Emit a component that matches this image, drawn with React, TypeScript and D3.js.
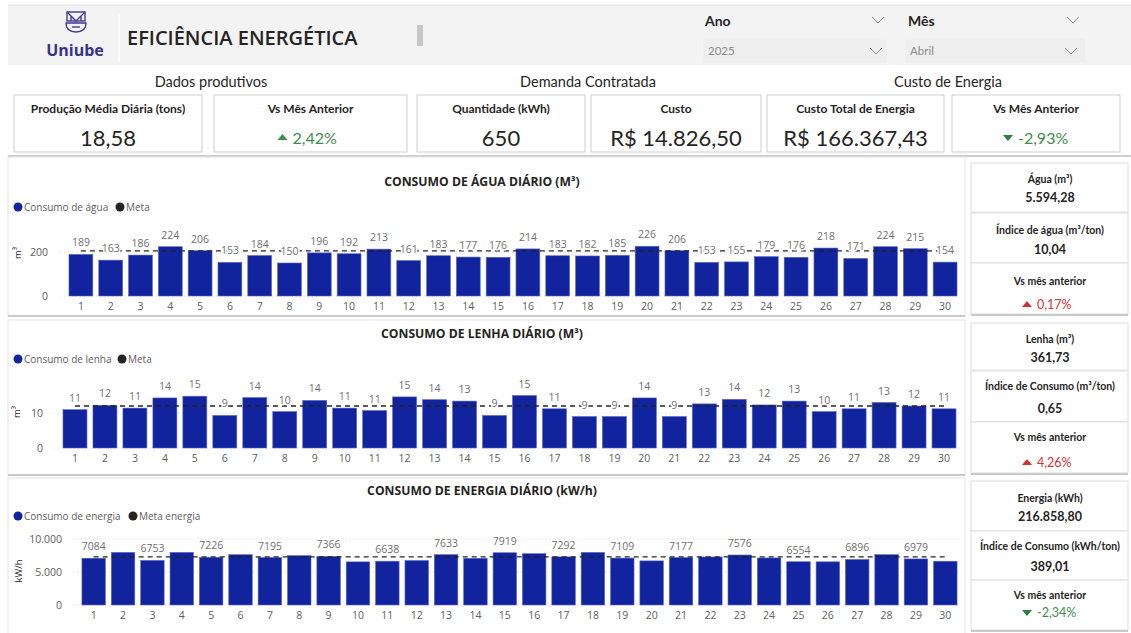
import React from "react";
import * as d3 from "d3";

const DAYS = ["1","2","3","4","5","6","7","8","9","10","11","12","13","14","15","16","17","18","19","20","21","22","23","24","25","26","27","28","29","30"];

const AGUA = [189,163,186,224,206,153,184,150,196,192,213,161,183,177,176,214,183,182,185,226,206,153,155,179,176,218,171,224,215,154];
const AGUA_META = 205;

const LENHA = [10.95,12.2,11.4,14.3,14.8,9.3,14.4,10.4,13.6,11.4,10.7,14.6,13.8,13.4,9.3,15.0,11.2,9.0,9.0,14.3,9.0,12.6,13.9,12.3,13.4,10.4,11.2,13.0,12.0,11.2];
const LENHA_META = 12;

const ENERGIA = [7084,7970,6753,7970,7226,7624,7195,7475,7366,6535,6638,6733,7633,7079,7919,7772,7292,7970,7109,6683,7177,7277,7576,7129,6554,6540,6896,7624,6979,6634];
const ENERGIA_META = 7300;

const KPI_GROUPS = ["Dados produtivos", "Demanda Contratada", "Custo de Energia"];
const KPI_LABELS = ["Produção Média Diária (tons)", "Vs Mês Anterior", "Quantidade (kWh)", "Custo", "Custo Total de Energia", "Vs Mês Anterior"];
const KPI_VALUES = ["18,58", "2,42%", "650", "R$ 14.826,50", "R$ 166.367,43", "-2,93%"];

const BLUE = "#12239E";
const GREY_TXT = "#605E5C";
const DARK = "#252423";
const GREEN = "#3E8E4E";
const RED = "#D13438";
const CAL = "Lato, 'Open Sans', sans-serif";
const SEG = "'Open Sans', 'Noto Sans', sans-serif";

const Chevron = ({ x, y }) => (
  <polyline points={`${x - 6},${y - 3} ${x},${y + 3} ${x + 6},${y - 3}`} fill="none" stroke="#8a8a8a" strokeWidth={1} />
);

const Trend = ({ x, y, up, color, text, size }) => (
  <g>
    <path d={up ? `M${x - 5},${y + 2} L${x},${y - 4} L${x + 5},${y + 2} Z` : `M${x - 5},${y - 3} L${x},${y + 3} L${x + 5},${y - 3} Z`} fill={up ? color : "#2E7D3A"} />
    <text x={x + 10} y={y} dy="0.35em" fontFamily={CAL} fontSize={size} fill={color}>{text}</text>
  </g>
);

// a bar chart panel with a dashed goal line
const BarPanel = ({ cfg }) => {
  const x = d3.scaleBand().domain(DAYS).range(cfg.xRange).paddingInner(0.2).paddingOuter(0.1);
  const y = d3.scaleLinear().domain([0, cfg.refVal]).range([cfg.base, cfg.refY]);
  const fmt = cfg.fmt;
  const metaLine = d3.line<string>().x((d) => x(d) + x.bandwidth() / 2).y(() => y(cfg.meta));
  const [gx0, gx1] = cfg.xRange;
  return (
    <g>
      <rect x={8} y={cfg.top} width={957} height={cfg.h} fill="#fff" stroke="#e3e3e3" />
      <line x1={8} x2={965} y1={cfg.top + cfg.h} y2={cfg.top + cfg.h} stroke="#c9c9c9" strokeWidth={2} />
      <text x={482} y={cfg.titleY} dy="0.35em" textAnchor="middle" fontFamily={SEG} fontWeight={700} fontSize={12.2} fill={DARK}>{cfg.title}</text>
      {cfg.legend.map((l, i) => (
        <g key={i}>
          <circle cx={l.x} cy={cfg.legendY} r={4.5} fill={i === 0 ? BLUE : DARK} />
          <text x={l.x + 6} y={cfg.legendY} dy="0.35em" fontFamily={SEG} fontSize={10} fill={GREY_TXT}>{l.label}</text>
        </g>
      ))}
      {cfg.ticks.map((t) => (
        <g key={t}>
          <line x1={gx0 - 6} x2={gx1} y1={y(t)} y2={y(t)} stroke="#dcdcdc" strokeDasharray="1,3" />
          <text x={cfg.tickX} y={y(t)} dy="0.35em" textAnchor="end" fontFamily={SEG} fontSize={10.5} fill={GREY_TXT}>{d3.format(",")(t).replace(/,/g, ".")}</text>
        </g>
      ))}
      <text transform={`translate(${cfg.unitX},${cfg.unitY}) rotate(-90)`} textAnchor="middle" fontFamily={SEG} fontSize={9.5} fill={DARK}>{cfg.unit}</text>
      {cfg.values.map((v, i) => (
        <rect key={i} x={x(DAYS[i])} y={y(v)} width={x.bandwidth()} height={cfg.base - y(v)} fill={BLUE} stroke="#5a66c4" strokeWidth={0.6} />
      ))}
      <path d={metaLine(DAYS) || ""} fill="none" stroke={DARK} strokeWidth={1.3} strokeDasharray="5,4" />
      {cfg.values.map((v, i) =>
        i % cfg.labelEvery === 0 ? (
          <text key={i} x={x(DAYS[i]) + x.bandwidth() / 2} y={y(v) - 8} textAnchor="middle" fontFamily={SEG} fontSize={10.5} fill="#6f6f6f" stroke="#fff" strokeWidth={3} paintOrder="stroke" strokeLinejoin="round">{fmt(v)}</text>
        ) : null
      )}
      {DAYS.map((d) => (
        <text key={d} x={x(d) + x.bandwidth() / 2} y={cfg.xLabY} dy="0.35em" textAnchor="middle" fontFamily={SEG} fontSize={10.5} fill={GREY_TXT}>{d}</text>
      ))}
    </g>
  );
};

const SideCards = ({ cards }) => (
  <g>
    {cards.map((c, i) => (
      <g key={i}>
        <rect x={971} y={c.y0} width={157} height={c.y1 - c.y0} fill="#fff" stroke="#dedede" />
        <text x={1050} y={c.ly} dy="0.35em" textAnchor="middle" fontFamily={CAL} fontWeight={700} fontSize={10.5} fill={DARK}>{c.label}</text>
        {c.trend ? (
          <Trend x={1027} y={c.vy} up={c.trend === "up"} color={c.color} text={c.value} size={12.5} />
        ) : (
          <text x={1050} y={c.vy} dy="0.35em" textAnchor="middle" fontFamily={CAL} fontWeight={700} fontSize={12.5} fill={DARK}>{c.value}</text>
        )}
      </g>
    ))}
    <line x1={971} x2={1128} y1={cards[2].y1 + 1} y2={cards[2].y1 + 1} stroke="#c9c9c9" strokeWidth={2} />
  </g>
);

const intFmt = d3.format(".0f");

const PANELS = [
  {
    top: 157, h: 159, title: "CONSUMO DE ÁGUA DIÁRIO (M³)", titleY: 182, legendY: 207,
    legend: [{ x: 18, label: "Consumo de água" }, { x: 120, label: "Meta" }],
    values: AGUA, meta: AGUA_META, refVal: 200, base: 296, refY: 252, ticks: [0, 200],
    tickX: 48, xRange: [66, 960], xLabY: 306, unit: "m³", unitX: 21, unitY: 253, labelEvery: 1, fmt: intFmt,
  },
  {
    top: 320, h: 155, title: "CONSUMO DE LENHA DIÁRIO (M³)", titleY: 334, legendY: 359,
    legend: [{ x: 18, label: "Consumo de lenha" }, { x: 122, label: "Meta" }],
    values: LENHA, meta: LENHA_META, refVal: 10, base: 448, refY: 413, ticks: [0, 10],
    tickX: 43, xRange: [60, 959], xLabY: 458, unit: "m³", unitX: 20, unitY: 412, labelEvery: 1, fmt: intFmt,
  },
  {
    top: 478, h: 160, title: "CONSUMO DE ENERGIA DIÁRIO (kW/h)", titleY: 491, legendY: 516,
    legend: [{ x: 18, label: "Consumo de energia" }, { x: 133, label: "Meta energia" }],
    values: ENERGIA, meta: ENERGIA_META, refVal: 10000, base: 605, refY: 539, ticks: [0, 5000, 10000],
    tickX: 62, xRange: [79, 960], xLabY: 615, unit: "kW/h", unitX: 22, unitY: 571, labelEvery: 2, fmt: intFmt,
  },
];

const CARDS = [
  [
    { y0: 163, y1: 212, label: "Água (m³)", ly: 179, value: "5.594,28", vy: 198 },
    { y0: 213, y1: 263, label: "Índice de água (m³/ton)", ly: 230, value: "10,04", vy: 250 },
    { y0: 263, y1: 314, label: "Vs mês anterior", ly: 281, value: "0,17%", vy: 305, trend: "up", color: RED },
  ],
  [
    { y0: 323, y1: 370, label: "Lenha (m³)", ly: 339, value: "361,73", vy: 358 },
    { y0: 371, y1: 422, label: "Índice de Consumo (m³/ton)", ly: 386, value: "0,65", vy: 409 },
    { y0: 422, y1: 473, label: "Vs mês anterior", ly: 437, value: "4,26%", vy: 463, trend: "up", color: RED },
  ],
  [
    { y0: 481, y1: 531, label: "Energia (kWh)", ly: 498, value: "216.858,80", vy: 517 },
    { y0: 531, y1: 580, label: "Índice de Consumo (kWh/ton)", ly: 546, value: "389,01", vy: 567 },
    { y0: 580, y1: 630, label: "Vs mês anterior", ly: 595, value: "-2,34%", vy: 613, trend: "down", color: GREEN },
  ],
];

const KPI_BOXES = [
  [14, 202], [214, 407], [417, 585], [591, 761], [767, 944], [952, 1120],
];
const GROUP_X = [211, 588, 948];

export default function App() {
  return (
    <svg width={1131} height={633} style={{ position: "absolute", left: 0, top: 0, background: "#fff" }}>
      {/* header */}
      <rect x={8} y={5} width={1123} height={60} fill="#f3f3f3" />
      <line x1={8} x2={1131} y1={5} y2={5} stroke="#e2e2e2" />
      <g stroke="#3f3b8f" strokeWidth={1.4} fill="none">
        <rect x={67} y={12} width={18} height={9} />
        <path d="M67,12 L76,21 L85,12 M71,21 L71,16 M81,21 L81,16" />
        <path d="M66,23 L86,23 Q86,32 76,32 Q66,32 66,23 Z" />
        <path d="M72,27 L80,27" />
      </g>
      <text x={75} y={50} dy="0.35em" textAnchor="middle" fontFamily={SEG} fontWeight={700} fontSize={16} fill="#37338a">Uniube</text>
      <line x1={119} x2={119} y1={14} y2={62} stroke="#fbfbfb" strokeWidth={2} />
      <text x={127} y={38} dy="0.35em" fontFamily={SEG} fontWeight={600} fontSize={20} fill={DARK}>EFICIÊNCIA ENERGÉTICA</text>
      <rect x={417} y={25} width={6} height={21} fill="#c6c6c6" />

      {/* slicers */}
      <text x={705} y={21} dy="0.35em" fontFamily={CAL} fontWeight={700} fontSize={14} fill={DARK}>Ano</text>
      <Chevron x={878} y={20} />
      <rect x={703} y={38} width={184} height={25} fill="#efefef" />
      <text x={708} y={51} dy="0.35em" fontFamily={CAL} fontSize={11.5} fill="#8a8a8a">2025</text>
      <Chevron x={876} y={51} />
      <text x={908} y={21} dy="0.35em" fontFamily={CAL} fontWeight={700} fontSize={14} fill={DARK}>Mês</text>
      <Chevron x={1073} y={20} />
      <rect x={905} y={38} width={180} height={25} fill="#efefef" />
      <text x={910} y={51} dy="0.35em" fontFamily={CAL} fontSize={11.5} fill="#8a8a8a">Abril</text>
      <Chevron x={1071} y={51} />

      {/* KPI row */}
      {KPI_GROUPS.map((g, i) => (
        <text key={g} x={GROUP_X[i]} y={82} dy="0.35em" textAnchor="middle" fontFamily={CAL} fontSize={14.5} fill={DARK}>{g}</text>
      ))}
      {KPI_BOXES.map(([a, b], i) => {
        const cx = (a + b) / 2;
        const isTrend = i === 1 || i === 5;
        return (
          <g key={i}>
            <rect x={a} y={95} width={b - a} height={57} fill="#fff" stroke="#cfcfcf" />
            <text x={cx} y={109} dy="0.35em" textAnchor="middle" fontFamily={CAL} fontWeight={700} fontSize={12} fill={DARK}>{KPI_LABELS[i]}</text>
            {isTrend ? (
              <Trend x={cx - 28} y={138} up={i === 1} color={GREEN} text={KPI_VALUES[i]} size={16} />
            ) : (
              <text x={cx} y={138} dy="0.35em" textAnchor="middle" fontFamily={CAL} fontSize={22} fill={DARK}>{KPI_VALUES[i]}</text>
            )}
          </g>
        );
      })}
      <line x1={8} x2={1131} y1={156} y2={156} stroke="#cfcfcf" strokeWidth={2} />

      {PANELS.map((p, i) => (
        <BarPanel key={i} cfg={p} />
      ))}
      {CARDS.map((c, i) => (
        <SideCards key={i} cards={c} />
      ))}
    </svg>
  );
}
